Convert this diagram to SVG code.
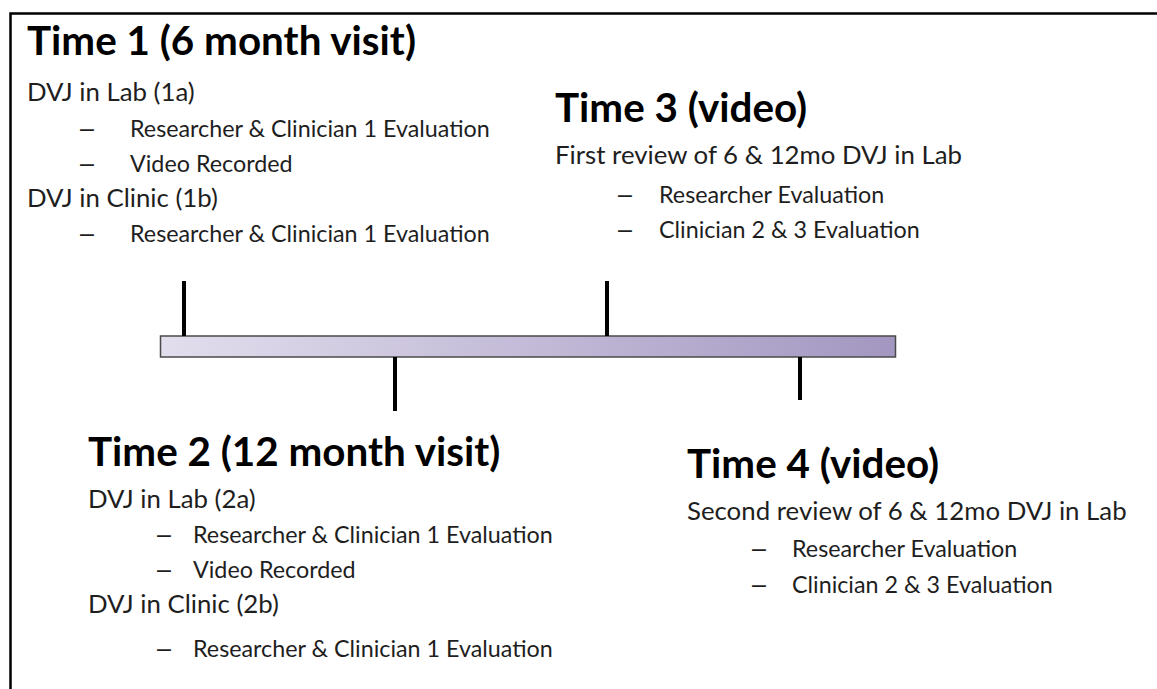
<svg xmlns="http://www.w3.org/2000/svg" width="1157" height="689" viewBox="0 0 1157 689">
  <style>
    text { font-family: Lato, "Open Sans", "Liberation Sans", sans-serif; fill: #1e1e1e; }
    .title { font-size: 40.4px; font-weight: bold; fill: #000; }
    .sub { font-size: 25.8px; }
    .item { font-size: 23.3px; }
    .dash { font-family: "Liberation Sans", Arial, sans-serif; font-size: 25px; }
    .tick { stroke: #000; stroke-width: 4; }
  </style>
  <defs>
    <linearGradient id="barFill" x1="0" y1="0" x2="1" y2="0">
      <stop offset="0" stop-color="#e2deed"/>
      <stop offset="1" stop-color="#a397c1"/>
    </linearGradient>
  </defs>
  <rect width="1157" height="689" fill="#fff"/>
  <!-- frame: top and left edges only -->
  <path d="M10.5,689 V13.5 H1157" fill="none" stroke="#000" stroke-width="2.5"/>

  <!-- timeline bar -->
  <g id="timeline">
    <rect x="160.5" y="336" width="735" height="21" fill="url(#barFill)" stroke="#4a4a4a" stroke-width="1.5"/>
  </g>

  <!-- ticks linking the bar to each time point -->
  <g id="connectors">
    <line class="tick" x1="184" y1="281" x2="184" y2="336"/>
    <line class="tick" x1="395" y1="357" x2="395" y2="411"/>
    <line class="tick" x1="607" y1="281" x2="607" y2="336"/>
    <line class="tick" x1="800" y1="357" x2="800" y2="400"/>
  </g>

  <g id="time1">
    <text class="title" x="27" y="55">Time 1 (6 month visit)</text>
    <text class="sub" x="27" y="101">DVJ in Lab (1a)</text>
    <text class="item dash" x="80" y="137">–</text>
    <text class="item" x="130" y="137">Researcher &amp; Clinician 1 Evaluation</text>
    <text class="item dash" x="80" y="172">–</text>
    <text class="item" x="130" y="172">Video Recorded</text>
    <text class="sub" x="27" y="207">DVJ in Clinic (1b)</text>
    <text class="item dash" x="80" y="242">–</text>
    <text class="item" x="130" y="242">Researcher &amp; Clinician 1 Evaluation</text>
  </g>

  <g id="time2">
    <text class="title" x="88" y="466">Time 2 (12 month visit)</text>
    <text class="sub" x="88" y="508">DVJ in Lab (2a)</text>
    <text class="item dash" x="157" y="543">–</text>
    <text class="item" x="193" y="543">Researcher &amp; Clinician 1 Evaluation</text>
    <text class="item dash" x="157" y="578">–</text>
    <text class="item" x="193" y="578">Video Recorded</text>
    <text class="sub" x="88" y="613">DVJ in Clinic (2b)</text>
    <text class="item dash" x="157" y="657">–</text>
    <text class="item" x="193" y="657">Researcher &amp; Clinician 1 Evaluation</text>
  </g>

  <g id="time3">
    <text class="title" x="555" y="122">Time 3 (video)</text>
    <text class="sub" x="555" y="164">First review of 6 &amp; 12mo DVJ in Lab</text>
    <text class="item dash" x="618" y="203">–</text>
    <text class="item" x="659" y="203">Researcher Evaluation</text>
    <text class="item dash" x="618" y="238">–</text>
    <text class="item" x="659" y="238">Clinician 2 &amp; 3 Evaluation</text>
  </g>

  <g id="time4">
    <text class="title" x="687" y="478">Time 4 (video)</text>
    <text class="sub" x="687" y="520">Second review of 6 &amp; 12mo DVJ in Lab</text>
    <text class="item dash" x="752" y="557">–</text>
    <text class="item" x="792" y="557">Researcher Evaluation</text>
    <text class="item dash" x="752" y="593">–</text>
    <text class="item" x="792" y="593">Clinician 2 &amp; 3 Evaluation</text>
  </g>
</svg>
